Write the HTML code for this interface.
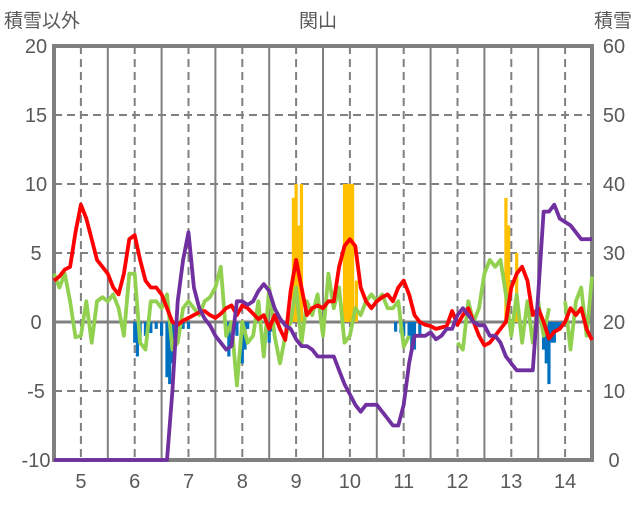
<!DOCTYPE html>
<html><head><meta charset="utf-8"><style>
body{margin:0;background:#fff;}
svg text{font-family:"Liberation Sans","Noto Sans CJK JP",sans-serif;fill:#595959;}
</style></head><body>
<svg id="c" width="636" height="501" xmlns="http://www.w3.org/2000/svg">
<text x="4" y="27" font-size="19">積雪以外</text>
<text x="318" y="27" font-size="19" text-anchor="middle">関山</text>
<text x="632" y="27" font-size="19" text-anchor="end">積雪</text>
<g id="grid"></g><g id="bars"></g><g id="axes"></g><g id="lines"></g>
</svg>
<script>
const months=[5,6,7,8,9,10,11,12,13,14];
const leftTicks=[-10,-5,0,5,10,15,20];
const rightTicks=[0,10,20,30,40,50,60];
const xStart=4.5, step=0.1;
const red=[3.0,3.3,3.8,4.0,6.5,8.5,7.5,6.0,4.5,4.0,3.5,2.5,2.0,3.5,6.0,6.3,4.5,3.0,2.5,2.5,2.0,1.0,0,-0.2,0.1,0.3,0.5,0.7,0.8,0.5,0.3,0.6,1.0,1.2,0.5,1.2,1.0,0.6,0.2,0.5,-0.5,0.5,-0.5,-1.3,2.3,4.5,2.5,0.5,1.0,1.2,1.0,1.5,1.5,4.0,5.5,6.0,5.5,2.5,1.5,1.0,1.5,1.8,2.0,1.5,2.5,3.0,2.0,0.5,0,-0.2,-0.3,-0.5,-0.4,-0.3,0.8,-0.2,0.5,1.0,0,-1.0,-1.7,-1.5,-1.0,-0.5,0,2.5,3.5,4.0,3.0,0.5,1.0,0,-1.2,-0.7,-0.5,0,1.0,0.5,1.0,-0.5,-1.3];
const green=[3.5,2.5,3.5,1.5,-1.1,-1.0,1.5,-1.5,1.5,1.8,1.5,2.0,1.0,-1.0,3.5,3.5,-1.5,-2.0,1.5,1.5,1.0,2.0,-2.0,-1.5,1.0,1.5,1.0,0.5,1.5,1.8,2.5,4.0,-1.0,0,-4.6,0,-1.5,-1.0,1.5,-2.5,2.5,-1.0,-3.0,-1.0,0,2.5,-1.5,1.5,0.5,2.0,-1.0,3.5,1.0,2.5,-1.5,-1.0,1.0,0.5,1.5,2.0,1.5,2.0,1.0,1.0,1.5,-1.8,-1.0,null,null,null,null,null,null,null,null,-1.5,-2.0,1.5,0,1.0,3.5,4.5,4.0,4.5,2.0,-1.0,2.0,-1.5,1.5,-1.5,1.5,-1.0,1.0,null,null,1.5,-2.0,1.5,2.5,-1.0,3.3];
const purple=[0,0,0,0,0,0,0,0,0,0,0,0,0,0,0,0,0,0,0,0,0,0,10,23,29,33,25,22,20.5,19.5,18,17,16,16.5,23,23,22.5,23,24.5,25.5,24.5,22,20.5,19.5,19,17.5,16.5,16.5,16,15,15,15,15,13,11,9.5,8,7,8,8,8,7,6,5,5,8,14,18,18,18,18.5,17.5,18,19,19,21,22,21,20,19.5,19.5,18,18,17,15,14,13,13,13,13,24,36,36,37,35,34.5,34,33,32,32,32];
const barX=[8.95,9.0,9.05,9.1,9.9,9.95,10.0,10.05,10.12,12.9,12.95,13.1,6.0,6.05,6.1,6.2,6.3,6.4,6.5,6.6,6.65,6.7,6.75,6.8,6.9,7.0,7.7,7.75,7.8,7.9,8.0,8.05,8.1,8.5,8.55,10.85,10.95,11.0,11.1,11.15,11.2,11.3,13.6,13.65,13.7,13.75,13.8,13.85,13.9];
const barV=[9,10,7,10,10,10,10,10,3,9,7,5,-1.5,-2.5,-1.5,-1,-0.8,-0.5,-1,-4,-4.5,-3,-2,-1,-0.5,-0.5,-1,-2.5,-1.5,-1,-3,-2,-0.5,-1.5,-0.7,-0.7,-0.8,-1,-1,-2,-2,-1,-2,-3,-4.5,-1.5,-1.5,-0.7,-0.5];
const X0=54,X1=592,Y0=46,Y1=460;
const xs=m=>X0+(m-4.5)/10*(X1-X0);
const yl=v=>Y1-(v+10)/30*(Y1-Y0);
const yr=v=>Y1-v/60*(Y1-Y0);
const NS="http://www.w3.org/2000/svg";
function mk(t,p,a){const e=document.createElementNS(NS,t);for(const k in a)e.setAttribute(k,a[k]);document.getElementById(p).appendChild(e);return e;}
leftTicks.forEach(v=>{const l=mk('line','grid',{x1:X0,x2:X1,y1:yl(v),y2:yl(v),stroke:'#808080','stroke-width':v===0?3:2,'stroke-dasharray':v===0?'':'8,5'});


const t=mk('text','axes',{x:36,y:yl(v)+7,'font-size':20,'text-anchor':'middle'});t.textContent=v;

});
rightTicks.forEach(v=>{const t=mk('text','axes',{x:614,y:yr(v)+7,'font-size':20,'text-anchor':'middle'});t.textContent=v;

});
months.forEach(m=>{const l=mk('line','grid',{x1:xs(m),x2:xs(m),y1:Y0,y2:Y1,stroke:'#808080','stroke-width':2,'stroke-dasharray':'8,5'});


if(m<14){const s=mk('line','grid',{x1:xs(m+0.5),x2:xs(m+0.5),y1:Y0,y2:Y1,stroke:'#808080','stroke-width':2});

}
const t=mk('text','axes',{x:xs(m),y:488,'font-size':20,'text-anchor':'middle'});t.textContent=m;

});
barX.forEach((m,i)=>{const v=barV[i];const y=Math.min(yl(v),yl(0));const r=mk('rect','bars',{x:xs(m)-1.6,y:y,width:3.2,height:Math.abs(yl(v)-yl(0)),fill:v>0?'#FFC000':'#0070C0'});

});
const f=mk('rect','axes',{x:X0,y:Y0,width:X1-X0,height:Y1-Y0,fill:'none',stroke:'#808080','stroke-width':4});


function line(arr,fy,col,name){let d='',pen=false;arr.forEach((v,i)=>{if(v===null){pen=false;return;}const x=xs(xStart+i*step),y=fy(v);d+=(pen?'L':'M')+x.toFixed(1)+','+y.toFixed(1);pen=true;});
const p=mk('path','lines',{d:d,fill:'none',stroke:col,'stroke-width':3.8,'stroke-linejoin':'round'});

}
line(green,yl,'#92D050','green-series');
line(red,yl,'#FF0000','red-series');
line(purple,yr,'#7030A0','snow-depth-series');
</script>
</body></html>
